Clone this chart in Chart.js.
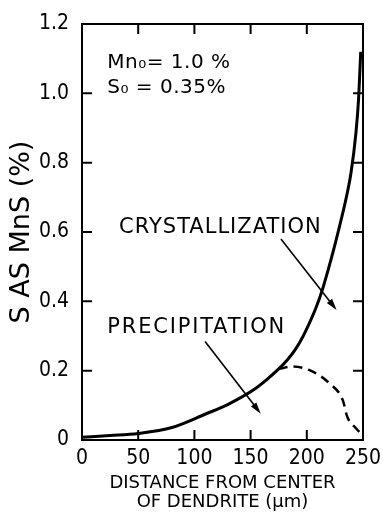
<!DOCTYPE html>
<html>
<head>
<meta charset="utf-8">
<script src="https://cdn.jsdelivr.net/npm/chart.js@4"></script>
<style>
  html, body { margin: 0; padding: 0; background: #fff; }
</style>
</head>
<body>
<canvas id="grafico" width="383" height="512"></canvas>
<script>
// dados (distancia em um, S como MnS em %)
var distCristal = [0, 25, 50, 80, 110, 130, 155, 175, 183, 190, 196, 202, 208, 214, 221.5, 229, 234.5, 239.3, 243.7, 246, 247.3, 248];
var sCristal = [0.008, 0.013, 0.019, 0.036, 0.075, 0.103, 0.15, 0.205, 0.232, 0.262, 0.295, 0.335, 0.38, 0.435, 0.52, 0.615, 0.69, 0.77, 0.885, 0.98, 1.07, 1.12];
var distPrecip = [175, 187, 202, 220, 232, 236, 243.7, 249.6];
var sPrecip = [0.205, 0.212, 0.202, 0.164, 0.115, 0.067, 0.034, 0.014];

var xTicks = [0, 50, 100, 150, 200, 250];
var yTicks = [0, 0.2, 0.4, 0.6, 0.8, 1.0, 1.2];
var yTickLabels = ["0", "0.2", "0.4", "0.6", "0.8", "1.0", "1.2"];

var fonte = '"DejaVu Sans Condensed", "DejaVu Sans", sans-serif';
var fonteLarga = '"DejaVu Sans", sans-serif';

// textos e setas em coordenadas do grafico
var notas = [
  { text: "Mn\u2080= 1.0 %", x: 22.5, y: 1.088, size: 20, spacing: 0.5 },
  { text: "S\u2080 = 0.35%", x: 22.5, y: 1.016, size: 20, spacing: 0.5 },
  { text: "CRYSTALLIZATION", x: 33, y: 0.612, size: 21, spacing: 1 },
  { text: "PRECIPITATION", x: 22.5, y: 0.323, size: 21, spacing: 1.8 }
];
var setas = [
  { from: [177, 0.58], to: [226.5, 0.375] },
  { from: [109.5, 0.284], to: [159, 0.076] }
];

function pontos(xs, ys) {
  return xs.map(function (x, i) { return { x: x, y: ys[i] }; });
}

var moldura = {
  id: "moldura",
  afterDatasetsDraw: function (chart) {
    var ctx = chart.ctx, a = chart.chartArea;
    var sx = chart.scales.x, sy = chart.scales.y;
    ctx.save();
    ctx.strokeStyle = "#000";
    ctx.lineWidth = 2;
    ctx.strokeRect(a.left, a.top, a.right - a.left, a.bottom - a.top);
    ctx.beginPath();
    xTicks.slice(1, -1).forEach(function (v) {
      var px = sx.getPixelForValue(v);
      ctx.moveTo(px, a.bottom); ctx.lineTo(px, a.bottom - 10);
      ctx.moveTo(px, a.top); ctx.lineTo(px, a.top + 10);
    });
    yTicks.slice(1, -1).forEach(function (v) {
      var py = sy.getPixelForValue(v);
      ctx.moveTo(a.left, py); ctx.lineTo(a.left + 10, py);
      ctx.moveTo(a.right, py); ctx.lineTo(a.right - 10, py);
    });
    ctx.stroke();

    // setas
    ctx.lineWidth = 1.6;
    ctx.fillStyle = "#000";
    setas.forEach(function (s) {
      var x1 = sx.getPixelForValue(s.from[0]), y1 = sy.getPixelForValue(s.from[1]);
      var x2 = sx.getPixelForValue(s.to[0]), y2 = sy.getPixelForValue(s.to[1]);
      var ang = Math.atan2(y2 - y1, x2 - x1);
      ctx.beginPath();
      ctx.moveTo(x1, y1);
      ctx.lineTo(x2 - 8 * Math.cos(ang), y2 - 8 * Math.sin(ang));
      ctx.stroke();
      ctx.beginPath();
      ctx.moveTo(x2, y2);
      ctx.lineTo(x2 - 12 * Math.cos(ang - 0.28), y2 - 12 * Math.sin(ang - 0.28));
      ctx.lineTo(x2 - 12 * Math.cos(ang + 0.28), y2 - 12 * Math.sin(ang + 0.28));
      ctx.closePath();
      ctx.fill();
    });

    // textos
    ctx.textAlign = "left";
    ctx.textBaseline = "middle";
    notas.forEach(function (n) {
      ctx.font = n.size + "px " + fonteLarga;
      ctx.letterSpacing = n.spacing + "px";
      ctx.fillText(n.text, sx.getPixelForValue(n.x), sy.getPixelForValue(n.y));
    });
    ctx.restore();
  }
};

var ctx = document.getElementById("grafico").getContext("2d");
var chart = new Chart(ctx, {
  type: "line",
  data: {
    datasets: [
      {
        label: "Crystallization",
        data: pontos(distCristal, sCristal),
        borderColor: "#000",
        borderWidth: 3,
        pointRadius: 0,
        cubicInterpolationMode: "monotone",
        fill: false
      },
      {
        label: "Precipitation",
        data: pontos(distPrecip, sPrecip),
        borderColor: "#000",
        borderWidth: 2.5,
        borderDash: [9, 6],
        pointRadius: 0,
        cubicInterpolationMode: "monotone",
        fill: false
      }
    ]
  },
  options: {
    responsive: false,
    animation: false,
    layout: { padding: { top: 24, right: 20, left: 0, bottom: 0 } },
    plugins: { legend: { display: false }, tooltip: { enabled: false } },
    scales: {
      x: {
        type: "linear",
        min: 0,
        max: 250,
        afterBuildTicks: function (s) { s.ticks = xTicks.map(function (v) { return { value: v }; }); },
        afterFit: function (s) { s.height = 72; s.paddingLeft = 0; s.paddingRight = 0; },
        grid: { display: false, drawTicks: false },
        border: { display: false },
        ticks: { color: "#000", padding: 6, maxRotation: 0, font: { family: fonte, size: 21 } },
        title: {
          display: true,
          text: ["DISTANCE FROM CENTER", "OF DENDRITE (\u03bcm)"],
          color: "#000",
          font: { family: fonteLarga, size: 18, lineHeight: 1.05 },
          padding: { top: 0, bottom: 0 }
        }
      },
      y: {
        type: "linear",
        min: 0,
        max: 1.2,
        afterBuildTicks: function (s) { s.ticks = yTicks.map(function (v) { return { value: v }; }); },
        afterFit: function (s) { s.width = 82; s.paddingTop = 0; s.paddingBottom = 0; },
        grid: { display: false, drawTicks: false },
        border: { display: false },
        ticks: {
          color: "#000",
          padding: 13,
          font: { family: fonte, size: 21 },
          callback: function (v, i) { return yTickLabels[i]; }
        },
        title: {
          display: true,
          text: "S AS MnS (%)",
          color: "#000",
          font: { family: fonteLarga, size: 27, lineHeight: 1.2 },
          padding: { top: 6, bottom: 0 }
        }
      }
    }
  },
  plugins: [moldura]
});
</script>
</body>
</html>
